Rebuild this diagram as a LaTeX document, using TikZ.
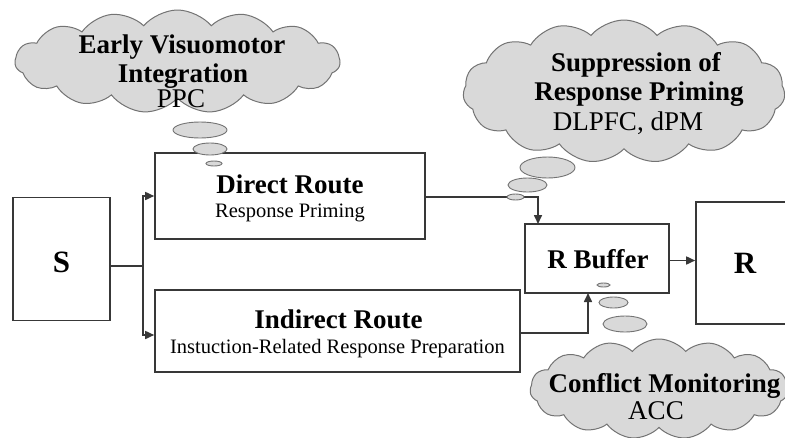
\documentclass[tikz,border=0pt]{standalone}
\usepackage{fontspec}
\setmainfont{Liberation Serif}
\usetikzlibrary{arrows.meta,shapes.symbols,shapes.geometric}
\definecolor{ink}{gray}{0.22}
\definecolor{puff}{gray}{0.85}
\definecolor{puffline}{gray}{0.45}
\tikzset{
  box/.style={draw=ink, line width=1.6pt, fill=white, inner sep=0pt},
  thought/.style={cloud, cloud puffs=15, cloud puff arc=100, cloud ignores aspect,
    fill=puff, draw=puffline, line width=1pt, inner sep=0pt},
  bubble/.style={ellipse, fill=puff, draw=puffline, line width=0.9pt, inner sep=0pt},
  conn/.style={draw=ink, line width=1.6pt},
  arr/.style={conn, -{Triangle[length=9pt,width=8pt]}},
  big/.style={font=\fontsize{27}{29}\selectfont\bfseries, anchor=base, inner sep=0pt},
  reg/.style={font=\fontsize{27}{29}\selectfont, anchor=base, inner sep=0pt},
  small/.style={font=\fontsize{20.5}{22}\selectfont, anchor=base, inner sep=0pt},
  huge/.style={font=\fontsize{31}{33}\selectfont\bfseries, anchor=base, inner sep=0pt},
}
\begin{document}
\begin{tikzpicture}[x=1pt, y=-1pt]
\clip (0,0) rectangle (785,437);
\fill[white] (0,0) rectangle (785,437);

% boxes
\node[box, minimum width=97pt, minimum height=123pt] (S) at (61.5,259) {};
\node[box, minimum width=270pt, minimum height=86pt] (direct) at (290,196) {};
\node[box, minimum width=365pt, minimum height=82pt] (indirect) at (337.5,331) {};
\node[box, minimum width=144pt, minimum height=69pt] (rbuf) at (597,258.5) {};
\node[box, minimum width=98pt, minimum height=122pt] (R) at (745,263) {};

% box labels
\node[huge] (Stxt) at (61.5,272) {S};
\node[huge] (Rtxt) at (745,273) {R};
\node[big] (dir1) at (290,193) {Direct Route};
\node[small] (dir2) at (290,217) {Response Priming};
\node[big] (ind1) at (338.5,328) {Indirect Route};
\node[small] (ind2) at (337.5,353) {Instuction-Related Response Preparation};
\node[big] (rb) at (598,268) {R Buffer};

% connectors
\coordinate (fork) at (143,266);
\coordinate (dtop) at (538,224);
\coordinate (ibot) at (588,293);
\draw[conn] (S.east |- fork) -- (fork);
\draw[arr] (fork) |- (direct.west);
\draw[arr] (fork) |- ([yshift=-4pt]indirect.west);
\draw[arr] ([yshift=-1pt]direct.east) -| (dtop);
\draw[arr] ([yshift=-2pt]indirect.east) -| (ibot);
\draw[arr] ([yshift=-2pt]rbuf.east) -- ([yshift=-2pt]rbuf.east -| R.west);

% thought clouds
\node[thought, minimum width=325pt, minimum height=103pt] (c1) at (177.5,61.5) {};
\node[thought, minimum width=322pt, minimum height=143pt] (c2) at (624,91.5) {};
\node[thought, minimum width=258pt, minimum height=100pt] (c3) at (659,389) {};

% bubbles leading to the clouds
\node[bubble, minimum width=54pt, minimum height=16pt] (b11) at (200,130) {};
\node[bubble, minimum width=34pt, minimum height=12pt] (b12) at (210,149) {};
\node[bubble, minimum width=16pt, minimum height=5pt] (b13) at (214,163.5) {};
\node[bubble, minimum width=55pt, minimum height=21pt] (b21) at (547.5,167.5) {};
\node[bubble, minimum width=39pt, minimum height=14pt] (b22) at (527.5,185) {};
\node[bubble, minimum width=17pt, minimum height=6pt] (b23) at (515.5,197) {};
\node[bubble, minimum width=13pt, minimum height=4pt] (b31) at (603.5,285) {};
\node[bubble, minimum width=29pt, minimum height=11pt] (b32) at (613.5,302.5) {};
\node[bubble, minimum width=44pt, minimum height=16pt] (b33) at (625,324) {};

% cloud labels
\node[big] (c1a) at (182,53) {Early Visuomotor};
\node[big] (c1b) at (183,82) {Integration};
\node[reg] (c1c) at (181,107) {PPC};
\node[big] (c2a) at (636,71) {Suppression of};
\node[big] (c2b) at (639,100) {Response Priming};
\node[reg] (c2c) at (628,130) {DLPFC, dPM};
\node[big] (c3a) at (664.5,392) {Conflict Monitoring};
\node[reg] (c3b) at (656,419) {ACC};
\end{tikzpicture}
\end{document}
